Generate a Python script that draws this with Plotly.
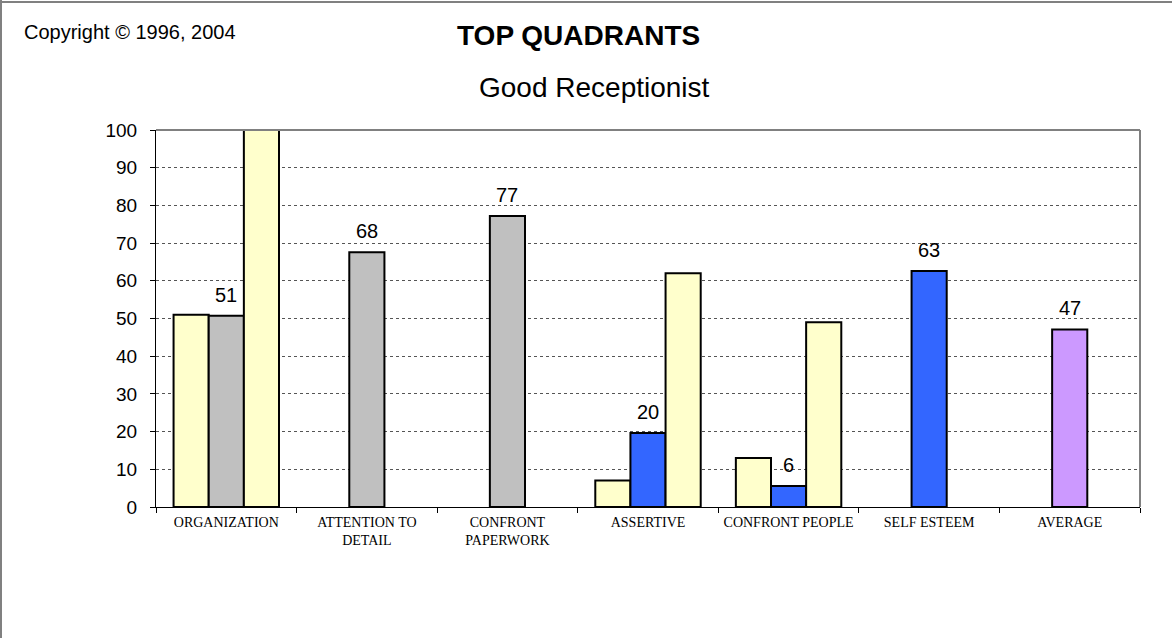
import plotly.graph_objects as go

categories = ["ORGANIZATION", "ATTENTION TO<br>DETAIL", "CONFRONT<br>PAPERWORK",
              "ASSERTIVE", "CONFRONT PEOPLE", "SELF ESTEEM", "AVERAGE"]
left_values = [51, None, None, 7, 13, None, None]
mid_values = [50.7, 67.6, 77.2, 19.6, 5.6, 62.6, 47.1]
right_values = [100, None, None, 62, 49, None, None]
mid_colors = ["#C0C0C0", "#C0C0C0", "#C0C0C0", "#3366FF", "#3366FF", "#3366FF", "#CC99FF"]
y_ticks = list(range(0, 101, 10))

fig = go.Figure()
line = dict(color="black", width=2)
fig.add_trace(go.Bar(x=categories, y=left_values, marker=dict(color="#FFFFCC", line=line),
                     showlegend=False, hoverinfo="y"))
fig.add_trace(go.Bar(x=categories, y=mid_values, marker=dict(color=mid_colors, line=line),
                     showlegend=False, hoverinfo="y"))
fig.add_trace(go.Bar(x=categories, y=right_values, marker=dict(color="#FFFFCC", line=line),
                     showlegend=False, hoverinfo="y"))

L, R, T, B = 156, 32, 130, 131
W, H = 1172, 638
pw, ph = W - L - R, H - T - B

def px(x):
    return (x - L) / pw

def py(y):
    return (H - B - y) / ph

annotations = [
    dict(text="<b>TOP QUADRANTS</b>", x=px(578), y=py(35), xref="paper", yref="paper",
         yanchor="middle", showarrow=False,
         font=dict(family="Liberation Sans, Arial", size=28, color="black")),
    dict(text="Good Receptionist", x=px(594), y=py(87), xref="paper", yref="paper",
         yanchor="middle", showarrow=False,
         font=dict(family="Liberation Sans, Arial", size=28, color="black")),
    dict(text="Copyright © 1996, 2004", x=px(22), y=py(32), xref="paper", yref="paper",
         xanchor="left", yanchor="middle", showarrow=False,
         font=dict(family="Liberation Sans, Arial", size=20, color="black")),
]
for c, v in zip(categories, mid_values):
    annotations.append(dict(x=c, y=v, xref="x", yref="y", text=f"{v:.0f}", showarrow=False,
                            yanchor="bottom", yshift=8,
                            font=dict(family="Liberation Sans, Arial", size=20, color="black")))

fig.update_layout(
    width=W, height=H,
    margin=dict(l=L, r=R, t=T, b=B),
    paper_bgcolor="white", plot_bgcolor="white",
    barmode="group", bargap=0.25, bargroupgap=0,
    xaxis=dict(type="category", tickson="boundaries", ticks="outside", ticklen=5,
               tickcolor="black", showline=True, linecolor="black", linewidth=1,
               tickfont=dict(family="Liberation Serif, Times New Roman", size=14, color="black"),
               ticklabelstandoff=2, showgrid=False),
    yaxis=dict(range=[0, 100], tickvals=y_ticks, ticks="outside", ticklen=5,
               tickcolor="black", showline=True, linecolor="black", linewidth=1,
               tickfont=dict(family="Liberation Sans, Arial", size=19, color="black"),
               ticklabelstandoff=9,
               showgrid=True, gridcolor="#555555", griddash="dot", gridwidth=1,
               zeroline=False),
    annotations=annotations,
    shapes=[
        dict(type="line", xref="paper", yref="paper", x0=0, x1=1, y0=1, y1=1,
             line=dict(color="#808080", width=2)),
        dict(type="line", xref="paper", yref="paper", x0=1, x1=1, y0=0, y1=1,
             line=dict(color="#808080", width=2)),
        dict(type="line", xref="paper", yref="paper", x0=px(0), x1=px(W), y0=py(2), y1=py(2),
             line=dict(color="#808080", width=2)),
        dict(type="line", xref="paper", yref="paper", x0=px(1), x1=px(1), y0=py(0), y1=py(H),
             line=dict(color="#808080", width=2)),
    ],
)

fig.write_html("out.html")
